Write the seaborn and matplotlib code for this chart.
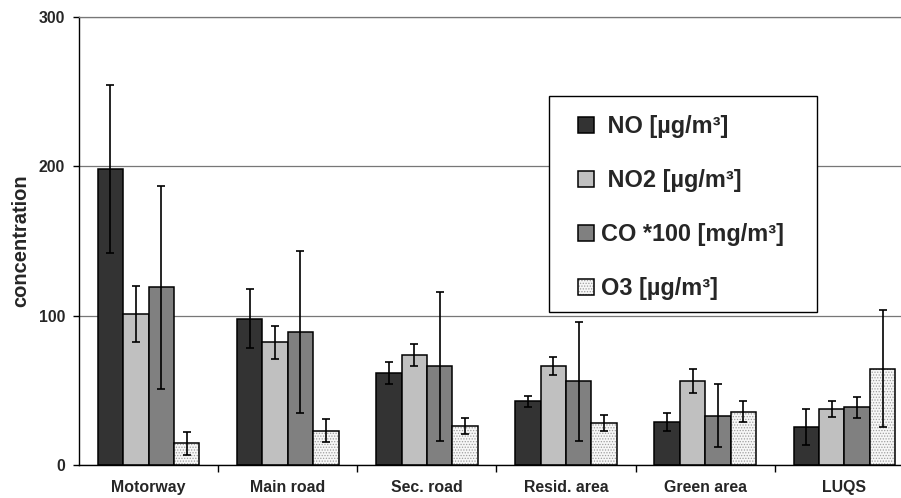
'''Air pollutant concentrations by site type'''

import pandas as pd
import seaborn as sns
import matplotlib.pyplot as plt
from matplotlib.ticker import FixedLocator
from matplotlib.patches import Rectangle

# site categories and pollutant series (mean and +/- error)
sites = ['Motorway', 'Main road', 'Sec. road', 'Resid. area', 'Green area', 'LUQS']
pollutants = [' NO [µg/m³]', ' NO2 [µg/m³]', 'CO *100 [mg/m³]', 'O3 [µg/m³]']

no_mean = [198, 98, 61.5, 42.5, 29, 25.5]
no_err = [56, 19.5, 7.5, 4, 6, 12]
no2_mean = [101, 82, 73.5, 66.5, 56, 37.5]
no2_err = [19, 11, 7.5, 6, 8, 5.5]
co_mean = [119, 89, 66, 56, 33, 38.5]
co_err = [68, 54, 50, 40, 21, 7]
o3_mean = [14.5, 23, 26, 28, 35.5, 64.5]
o3_err = [7.5, 7.5, 5.5, 5.5, 7, 39]

means = [no_mean, no2_mean, co_mean, o3_mean]
errs = [no_err, no2_err, co_err, o3_err]
colors = ['#333333', '#c0c0c0', '#808080', '#f7f7f7']

# long format table for seaborn
rows = []
for p, m, e in zip(pollutants, means, errs):
    for s, v, d in zip(sites, m, e):
        rows.append({'site': s, 'pollutant': p, 'value': v, 'err': d})
df = pd.DataFrame(rows)

sns.set_style('white')
plt.rcParams['font.family'] = ['Liberation Sans', 'DejaVu Sans']
plt.rcParams['font.weight'] = 'bold'
plt.rcParams['hatch.linewidth'] = 0.6

fig = plt.figure(figsize=(9.01, 4.98), dpi=100)
ax = fig.add_axes([79 / 901, 33 / 498, 835 / 901, 448.3 / 498])

sns.barplot(data=df, x='site', y='value', hue='pollutant', palette=colors,
            edgecolor='black', linewidth=1.1, width=0.73, saturation=1,
            errorbar=None, ax=ax, zorder=2)

# error bars on top of each bar
for cont, m, e in zip(ax.containers, means, errs):
    xs = [b.get_x() + b.get_width() / 2 for b in cont]
    ax.errorbar(xs, m, yerr=e, fmt='none', ecolor='black', elinewidth=1.2,
                capsize=2.6, capthick=1.2, zorder=3)

# dotted fill for O3
for b in ax.containers[3]:
    b.set_hatch('......')
    b._hatch_color = (0.62, 0.62, 0.62, 1)

ax.set_ylim(0, 300)
ax.set_yticks([0, 100, 200, 300])
ax.set_xlim(-0.5, 5.5)
ax.yaxis.grid(True, color='#777777', linewidth=0.9, zorder=0)
ax.set_axisbelow(True)

ax.spines['right'].set_visible(False)
ax.spines['top'].set_color('#777777')
ax.spines['top'].set_linewidth(0.9)
for side in ['left', 'bottom']:
    ax.spines[side].set_color('black')
    ax.spines[side].set_linewidth(1.0)

ax.xaxis.set_minor_locator(FixedLocator([0.5, 1.5, 2.5, 3.5, 4.5]))
ax.tick_params(axis='x', which='major', length=0, pad=11, labelsize=11.4)
ax.tick_params(axis='x', which='minor', length=5, width=1, direction='out',
               bottom=True, color='black')
ax.tick_params(axis='y', length=4, width=1, direction='out', left=True,
               pad=6, labelsize=11.4, color='black')
for lab in ax.get_xticklabels() + ax.get_yticklabels():
    lab.set_fontweight('bold')

ax.set_xlabel('')
ax.set_ylabel('concentration', fontsize=14.5, fontweight='bold', labelpad=6)

# legend box drawn separately so the padding can differ per side
box = Rectangle((549 / 901, 1 - 312 / 498), 268 / 901, 216 / 498,
                transform=fig.transFigure, facecolor='white', edgecolor='black',
                linewidth=1.0, zorder=4, clip_on=False)
ax.add_patch(box)

leg = ax.legend(ax.containers, pollutants, loc='upper left',
                bbox_to_anchor=(578 / 901, 1 - 115 / 498),
                bbox_transform=fig.transFigure, borderaxespad=0, borderpad=0,
                prop={'size': 16.9, 'weight': 'bold'}, handlelength=0.68,
                handleheight=0.68, handletextpad=0.3, labelspacing=1.32,
                frameon=False)
leg.set_zorder(5)

plt.savefig('out.png', dpi=100)
